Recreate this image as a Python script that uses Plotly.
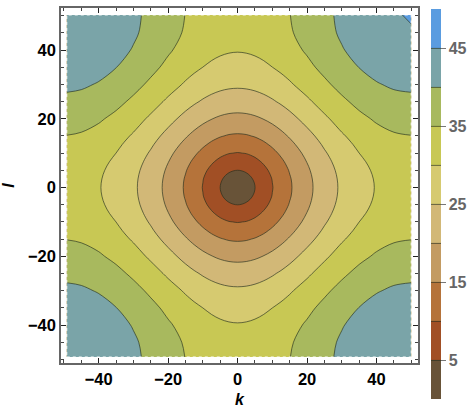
import plotly.graph_objects as go

grid_pos = [0, 2.5, 5, 7.5, 10, 12.5, 15, 20, 25, 30, 35, 40, 45, 50]
tri_values = [
    [0, 2.49, 4.97, 7.42, 9.83, 12.17, 14.44, 18.69, 22.49, 25.73, 28.33, 30.24, 31.41, 31.80],
    [3.53, 5.57, 7.83, 10.14, 12.42, 14.65, 18.86, 22.62, 25.85, 28.44, 30.35, 31.51, 31.90],
    [7.04, 8.94, 11.01, 13.15, 15.27, 19.34, 23.03, 26.20, 28.77, 30.65, 31.80, 32.19],
    [10.50, 12.32, 14.25, 16.23, 20.11, 23.68, 26.78, 29.29, 31.14, 32.27, 32.65],
    [13.90, 15.64, 17.46, 21.12, 24.54, 27.54, 29.99, 31.80, 32.91, 33.28],
    [17.21, 18.88, 22.30, 25.57, 28.46, 30.84, 32.60, 33.68, 34.05],
    [20.42, 23.62, 26.72, 29.50, 31.80, 33.51, 34.57, 34.92],
    [26.43, 29.24, 31.80, 33.94, 35.55, 36.55, 36.89],
    [31.80, 34.17, 36.17, 37.69, 38.63, 38.95],
    [36.38, 38.27, 39.71, 40.60, 40.90],
    [40.07, 41.44, 42.30, 42.59],
    [42.77, 43.60, 43.88],
    [44.42, 44.70],
    [44.97],
]
top_right_corner = 45.31
k_left_edge = -49.2
l_bottom_edge = -49.3
l_top_edge = 50.2

band_colors = ["#685338", "#a14f25", "#b5733a", "#c39b62", "#d2b877",
               "#d6ca70", "#c8c854", "#a8b95e", "#7aa4a8", "#5a9ce0"]
level_start, level_end, level_size = 5, 45, 5
axis_ticks = [-40, -20, 0, 20, 40]
bar_ticks = [5, 15, 25, 35, 45]

n = len(grid_pos)
def val(i, j):
    a, b = min(i, j), max(i, j)
    return tri_values[a][b - a]

idx = list(range(n - 1, 0, -1)) + list(range(n))
k_axis = [-grid_pos[i] for i in range(n - 1, 0, -1)] + grid_pos
l_axis = list(k_axis)
k_axis[0] = k_left_edge
l_axis[0] = l_bottom_edge
l_axis[-1] = l_top_edge
z = [[val(i, j) for j in idx] for i in idx]
z[-1][-1] = top_right_corner

scale = [[i / (len(band_colors) - 1), c] for i, c in enumerate(band_colors)]
FONT = "Liberation Sans"
L, R, T, B = 60.5, 418.3, 6.0, 364.3
W, H = 472, 412
x_range = [(L - 237.5) / 3.48, (R - 237.5) / 3.48]
y_range = [(187.2 - B) / 3.47, (187.2 - T) / 3.47]

fig = go.Figure(go.Contour(
    x=k_axis, y=l_axis, z=z,
    zmin=0, zmax=50, zauto=False,
    colorscale=scale,
    contours=dict(coloring="fill", start=level_start, end=level_end, size=level_size),
    line=dict(color="rgba(35,45,30,0.8)", width=0.8, smoothing=1.0),
    colorbar=dict(
        thickness=10, thicknessmode="pixels",
        len=390, lenmode="pixels", yanchor="top", y=1 - 11 / H, yref="container",
        x=431 / W, xanchor="left", xref="container",
        xpad=0, ypad=0, outlinewidth=0, borderwidth=0,
        tickmode="array", tickvals=bar_ticks,
        ticks="outside", ticklen=5, tickcolor="#777777", tickwidth=1,
        tickfont=dict(family=FONT, size=16, color="#666666", weight=700),
    ),
))

axis_common = dict(
    tickmode="array", tickvals=axis_ticks,
    ticks="inside", ticklen=5, tickwidth=1, tickcolor="#222222",
    minor=dict(dtick=5, tick0=0, ticks="inside", ticklen=3, tickwidth=0.8, tickcolor="#444444"),
    mirror="allticks", showline=True, linecolor="#666666", linewidth=1.5,
    showgrid=False, zeroline=False,
    tickfont=dict(family=FONT, size=16.5, color="#000000", weight=700),
)
fig.update_layout(
    width=W, height=H, autosize=False,
    paper_bgcolor="white", plot_bgcolor="white",
    margin=dict(l=L, r=W - R, t=T, b=H - B, pad=0),
    xaxis=dict(range=x_range, title=dict(text="<b><i>k</i></b>", font=dict(family=FONT, size=16, color="#000"), standoff=7), **axis_common),
    yaxis=dict(range=y_range, title=dict(text="<b><i>l</i></b>", font=dict(family=FONT, size=16, color="#000"), standoff=9), **axis_common),
    showlegend=False,
)
fig.add_shape(type="rect", x0=k_left_edge, x1=50, y0=l_bottom_edge, y1=l_top_edge,
              line=dict(color="white", width=1, dash="dot"), layer="above")
fig.write_html("out.html", config=dict(displayModeBar=False), post_script="document.body.style.margin='0';")
